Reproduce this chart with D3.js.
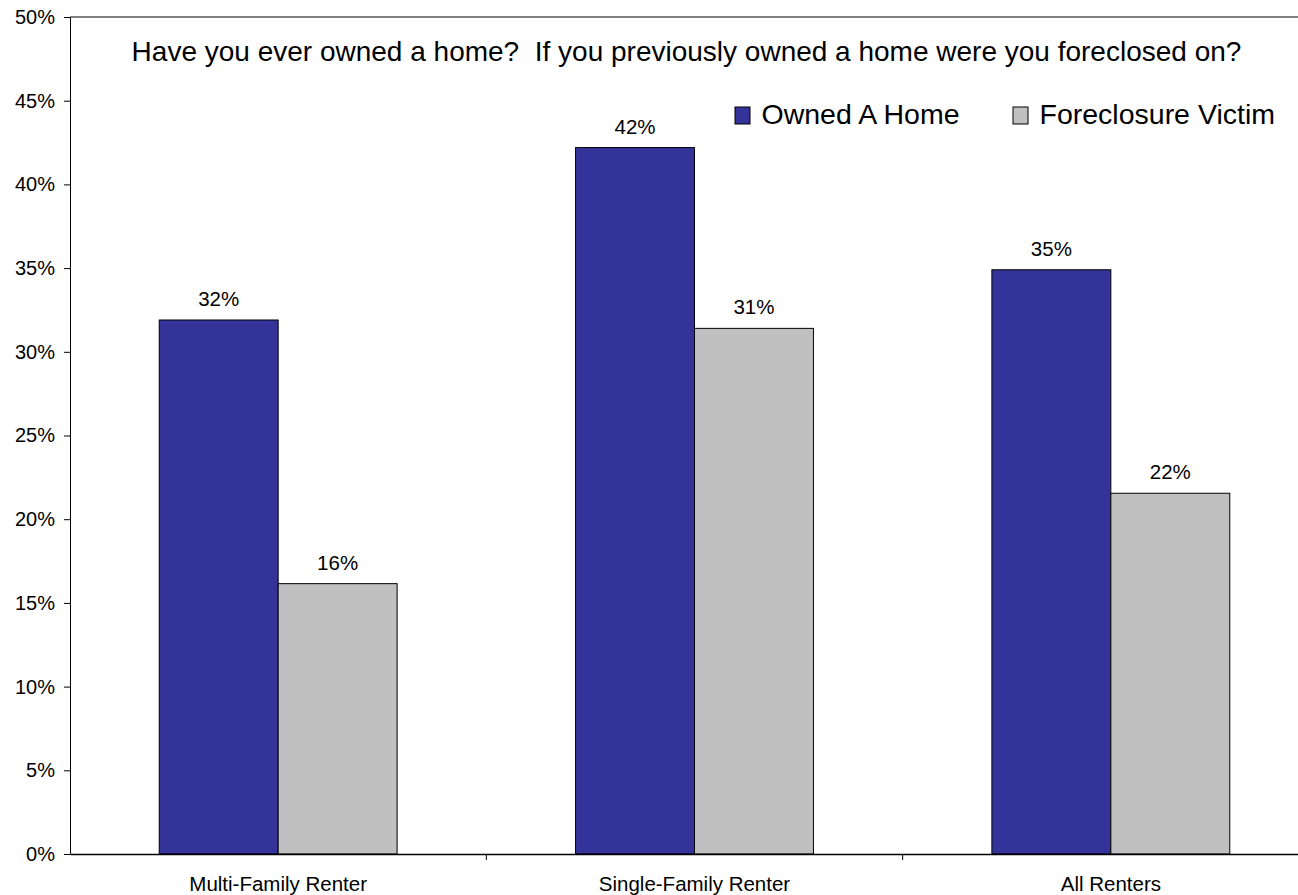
<!DOCTYPE html>
<html>
<head>
<meta charset="utf-8">
<script src="https://cdn.jsdelivr.net/npm/d3@7"></script>
<style>
  html, body { margin: 0; padding: 0; background: #fff; }
  svg { display: block; font-family: "Liberation Sans", Arial, sans-serif; }
  .pre { white-space: pre; }
</style>
</head>
<body>
<svg id="chart" width="1298" height="895"></svg>
<script>
// Survey results by renter type
const categories = ["Multi-Family Renter", "Single-Family Renter", "All Renters"];
const seriesNames = ["Owned A Home", "Foreclosure Victim"];
const ownedHome = [0.319, 0.422, 0.349];
const foreclosed = [0.1615, 0.314, 0.2155];
const yTicks = [0, 0.05, 0.10, 0.15, 0.20, 0.25, 0.30, 0.35, 0.40, 0.45, 0.50];
const colors = ["#333399", "#C0C0C0"];
const titleText = "Have you ever owned a home?  If you previously owned a home were you foreclosed on?";

const FONT = "Liberation Sans, Arial, sans-serif";
const svg = d3.select("#chart");
const plotLeft = 70, plotTop = 17, plotBottom = 854, plotRight = 1319;

const x = d3.scaleBand().domain(categories).range([plotLeft, plotRight]).paddingInner(0).paddingOuter(0);
const y = d3.scaleLinear().domain([0, 0.5]).range([plotBottom, plotTop]);

const barW = x.bandwidth() * 0.2857;
const fmt = d3.format(".0%");

// top frame line
svg.append("line")
  .attr("x1", plotLeft).attr("x2", 1298)
  .attr("y1", plotTop).attr("y2", plotTop)
  .attr("stroke", "#000").attr("stroke-width", 1);

// bars with value labels
const series = [ownedHome, foreclosed];
series.forEach((vals, si) => {
  const g = svg.append("g");
  g.selectAll("rect").data(vals).join("rect")
    .attr("x", (d, i) => x(categories[i]) + x.bandwidth() / 2 + (si - 1) * barW)
    .attr("y", d => y(d))
    .attr("width", barW)
    .attr("height", d => y(0) - y(d))
    .attr("fill", colors[si])
    .attr("stroke", "#000")
    .attr("stroke-width", 1);
  g.selectAll("text").data(vals).join("text")
    .attr("x", (d, i) => x(categories[i]) + x.bandwidth() / 2 + (si - 0.5) * barW)
    .attr("y", d => y(d) - 14)
    .attr("text-anchor", "middle")
    .attr("font-family", FONT)
    .attr("font-size", 20.5)
    .attr("fill", "#000")
    .text(d => fmt(d));
});

// y axis
const yAxis = d3.axisLeft(y).tickValues(yTicks).tickFormat(fmt).tickSizeInner(6).tickSizeOuter(0).tickPadding(9);
const yg = svg.append("g").attr("transform", `translate(${plotLeft},0)`).call(yAxis);
yg.select(".domain").attr("stroke", "#000");
yg.selectAll(".tick line").attr("stroke", "#000");
yg.selectAll(".tick text").attr("font-size", 20).attr("fill", "#000")
  .attr("font-family", FONT);

// x axis
const xAxis = d3.axisBottom(x).tickSize(0).tickPadding(0);
const xg = svg.append("g").attr("transform", `translate(0,${plotBottom})`).call(xAxis);
xg.select(".domain").attr("stroke", "#000").attr("stroke-width", 1.3);
xg.selectAll(".tick text").attr("font-size", 20.5).attr("fill", "#000").attr("dy", 0).attr("y", 37)
  .attr("font-family", FONT);
// category separators
xg.selectAll(".sep").data(categories.slice(1)).join("line")
  .attr("class", "sep")
  .attr("x1", d => x(d)).attr("x2", d => x(d))
  .attr("y1", 0).attr("y2", 6)
  .attr("stroke", "#000");

// title
svg.append("text")
  .attr("class", "pre")
  .attr("x", 686.5).attr("y", 61)
  .attr("text-anchor", "middle")
  .attr("font-family", FONT)
  .attr("font-size", 28)
  .attr("fill", "#000")
  .text(titleText);

// legend
const legendX = [735, 1013];
seriesNames.forEach((name, i) => {
  svg.append("rect")
    .attr("x", legendX[i]).attr("y", 107)
    .attr("width", 15).attr("height", 17)
    .attr("fill", colors[i]).attr("stroke", "#000").attr("stroke-width", 1);
  svg.append("text")
    .attr("x", legendX[i] + 26.5).attr("y", 124)
    .attr("font-family", FONT)
    .attr("font-size", 28.5)
    .attr("fill", "#000")
    .text(name);
});
</script>
</body>
</html>
